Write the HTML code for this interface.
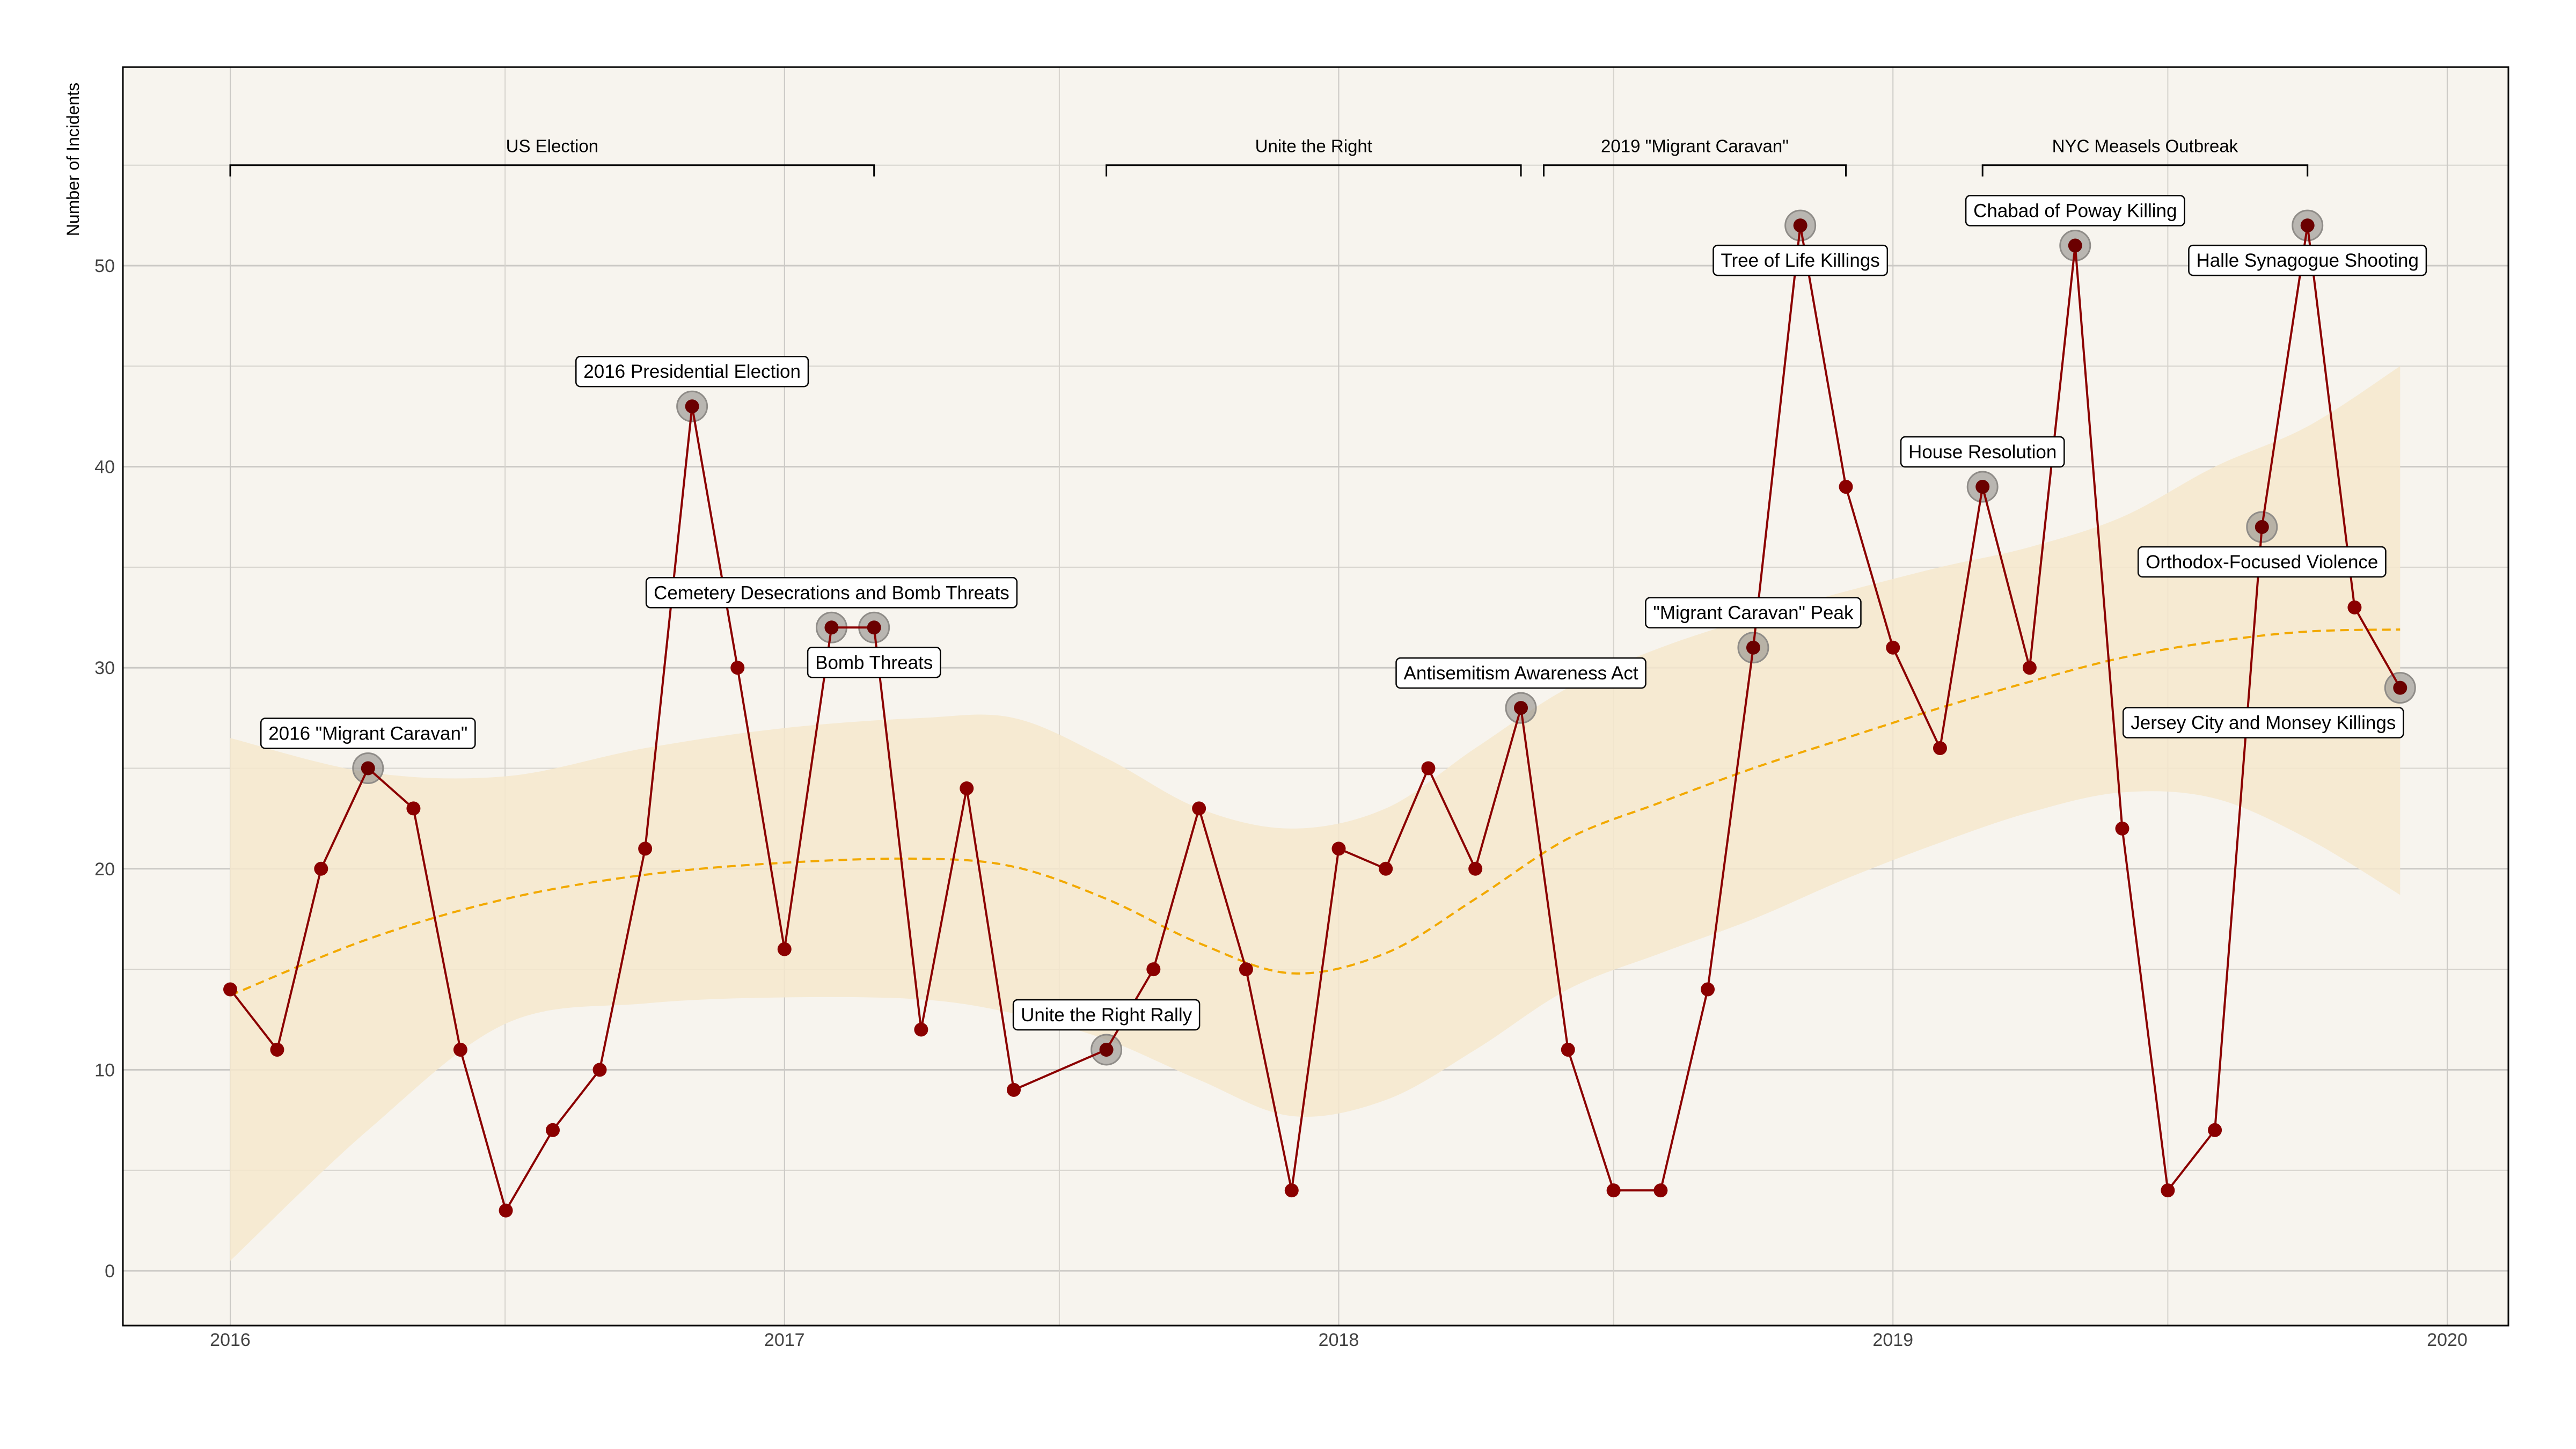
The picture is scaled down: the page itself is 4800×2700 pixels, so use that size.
<!DOCTYPE html>
<html><head><meta charset="utf-8">
<style>
html,body{margin:0;padding:0;background:#fff;}
svg{display:block;font-family:"Liberation Sans",sans-serif;}
</style></head>
<body>
<svg id="chart" width="4800" height="2700" viewBox="0 0 4800 2700" xmlns="http://www.w3.org/2000/svg">
<rect x="229" y="125" width="4445" height="2345" fill="#f7f4ee"/>
<g id="grid"></g>
<g id="ribbon"></g>
<g id="brackets"></g>
<g id="series"></g>
<g id="labels"></g>
<rect x="229" y="125" width="4445" height="2345" fill="none" stroke="#000" stroke-width="3"/>
<g id="axes"></g>
<text transform="translate(147,297) rotate(-90)" text-anchor="middle" font-size="32" fill="#000">Number of Incidents</text>
</svg>
<script>
// ---- data ----
const months = ["2016-01","2016-02","2016-03","2016-04","2016-05","2016-06","2016-07","2016-08","2016-09","2016-10","2016-11","2016-12",
"2017-01","2017-02","2017-03","2017-04","2017-05","2017-06","2017-08","2017-09","2017-10","2017-11","2017-12",
"2018-01","2018-02","2018-03","2018-04","2018-05","2018-06","2018-07","2018-08","2018-09","2018-10","2018-11","2018-12",
"2019-01","2019-02","2019-03","2019-04","2019-05","2019-06","2019-07","2019-08","2019-09","2019-10","2019-11","2019-12"];
const incidents = [14,11,20,25,23,11,3,7,10,21,43,30,
16,32,32,12,24,9,11,15,23,15,4,
21,20,25,20,28,11,4,4,14,31,52,39,
31,26,39,30,51,22,4,7,37,52,33,29];
const trendMonths = ["2016-01","2016-04","2016-07","2016-10","2017-01","2017-04","2017-06","2017-08","2017-10","2017-12","2018-02","2018-04","2018-06","2018-08","2018-10","2018-12","2019-02","2019-04","2019-06","2019-08","2019-10","2019-12"];
const trendFit =   [13.7,16.5,18.5,19.7,20.3,20.5,20.1,18.5,16.3,14.8,15.8,18.5,21.5,23.3,25.0,26.5,28.0,29.3,30.5,31.3,31.8,31.9];
const trendUpper = [26.5,24.8,24.6,26.0,27.0,27.5,27.5,25.5,23.0,22.0,23.0,26.0,29.0,31.0,32.5,33.8,35.0,36.0,37.5,40.0,42.0,45.0];
const trendLower = [0.5,7.0,12.3,13.3,13.6,13.5,12.8,11.5,9.5,7.7,8.5,11.0,14.0,15.8,17.5,19.5,21.3,22.8,23.8,23.5,21.5,18.7];
const eventMonths = ["2016-04","2016-11","2017-02","2017-03","2017-08","2018-05","2018-10","2018-11","2019-03","2019-05","2019-09","2019-10","2019-12"];
const eventLabels = ["2016 \"Migrant Caravan\"","2016 Presidential Election","Cemetery Desecrations and Bomb Threats","Bomb Threats","Unite the Right Rally","Antisemitism Awareness Act","\"Migrant Caravan\" Peak","Tree of Life Killings","House Resolution","Chabad of Poway Killing","Orthodox-Focused Violence","Halle Synagogue Shooting","Jersey City and Monsey Killings"];
const eventPlacement = ["above","above","above","below","above","above","above","below","above","above","below","below","below-left"];
const periodStart = ["2016-01-01","2017-08-01","2018-05-16","2019-03-01"];
const periodEnd =   ["2017-03-01","2018-05-01","2018-12-01","2019-10-01"];
const periodNames = ["US Election","Unite the Right","2019 \"Migrant Caravan\"","NYC Measels Outbreak"];
const yTicks = [0,10,20,30,40,50];
const yMinor = [5,15,25,35,45,55];
const xTicks = ["2016","2017","2018","2019","2020"];
const bracketLevel = 55;

// ---- scales ----
const NS="http://www.w3.org/2000/svg";
const X0=429, YEARPX=1032.75, Y0=2368, UNIT=37.46;
function dayFrac(s){const p=s.split("-");const y=+p[0],m=p.length>1?+p[1]-1:0,dd=p.length>2?+p[2]:1;
  const d=Date.UTC(y,m,dd), s0=Date.UTC(y,0,1), s1=Date.UTC(y+1,0,1);return y+(d-s0)/(s1-s0);}
function xs(s){return X0+(dayFrac(s)-2016)*YEARPX;}
function ys(v){return Y0-v*UNIT;}
function mk(tag,attrs,parent){const e=document.createElementNS(NS,tag);for(const k in attrs)e.setAttribute(k,attrs[k]);parent.appendChild(e);return e;}
function smooth(pts,start){let d=start?"M"+pts[0][0]+","+pts[0][1]:"L"+pts[0][0]+","+pts[0][1];
for(let i=0;i<pts.length-1;i++){const p0=pts[Math.max(0,i-1)],p1=pts[i],p2=pts[i+1],p3=pts[Math.min(pts.length-1,i+2)];
d+="C"+(p1[0]+(p2[0]-p0[0])/6)+","+(p1[1]+(p2[1]-p0[1])/6)+" "+(p2[0]-(p3[0]-p1[0])/6)+","+(p2[1]-(p3[1]-p1[1])/6)+" "+p2[0]+","+p2[1];}
return d;}

const grid=document.getElementById('grid');
yMinor.forEach(v=>{const l=mk('line',{x1:229,x2:4674,y1:ys(v),y2:ys(v),stroke:'#d6d3cd','stroke-width':2},grid);

});
yTicks.forEach(v=>{const l=mk('line',{x1:229,x2:4674,y1:ys(v),y2:ys(v),stroke:'#cbc9c5','stroke-width':3},grid);

});
xTicks.forEach((t,i)=>{const x=xs(t);const l=mk('line',{x1:x,x2:x,y1:125,y2:2470,stroke:'#cbc9c5','stroke-width':2},grid);


if(i<xTicks.length-1){const xm=x+YEARPX*0.4959;const m=mk('line',{x1:xm,x2:xm,y1:125,y2:2470,stroke:'#d6d3cd','stroke-width':2},grid);

}});

// ribbon + trend
const rib=document.getElementById('ribbon');
const up=trendMonths.map((m,i)=>[xs(m),ys(trendUpper[i])]);
const lo=trendMonths.map((m,i)=>[xs(m),ys(trendLower[i])]).reverse();
const band=mk('path',{d:smooth(up,true)+smooth(lo,false)+"Z",fill:'#f6e8cc','fill-opacity':0.85},rib);


const tpts=trendMonths.map((m,i)=>[xs(m),ys(trendFit[i])]);
const tl=mk('path',{d:smooth(tpts,true),fill:'none',stroke:'#f2a900','stroke-width':4,'stroke-dasharray':'16,10'},rib);



// brackets
const br=document.getElementById('brackets');
periodNames.forEach((n,i)=>{const a=xs(periodStart[i]),b=xs(periodEnd[i]),y=ys(bracketLevel);
const p=mk('path',{d:`M${a},${y+21}V${y}H${b}V${y+21}`,fill:'none',stroke:'#000','stroke-width':3},br);


const t=mk('text',{x:(a+b)/2,y:y-24,'text-anchor':'middle','font-size':33,fill:'#000'},br);t.textContent=n;

});

// series
const se=document.getElementById('series');
eventMonths.forEach(m=>{const i=months.indexOf(m);const c=mk('circle',{cx:xs(m),cy:ys(incidents[i]),r:28,fill:'#8f8c88','fill-opacity':0.6,stroke:'#8f8c88','stroke-width':3},se);

});
const ln=mk('polyline',{points:months.map((m,i)=>xs(m)+","+ys(incidents[i])).join(" "),fill:'none',stroke:'#8b0000','stroke-width':4},se);


months.forEach((m,i)=>{const c=mk('circle',{cx:xs(m),cy:ys(incidents[i]),r:13,fill:eventMonths.includes(m)?'#6b0000':'#8b0000'},se);

});

// labels
const lb=document.getElementById('labels');
eventMonths.forEach((m,k)=>{const i=months.indexOf(m);let cx=xs(m),cy=ys(incidents[i]);
const pl=eventPlacement[k];cy+= pl.startsWith('below')?65:-65; if(pl==='below-left')cx-=255;
const g=mk('g',{},lb);


const r=mk('rect',{rx:8,ry:8,fill:'#fff',stroke:'#000','stroke-width':2.5},g);
const t=mk('text',{x:cx,y:cy+12,'text-anchor':'middle','font-size':35,fill:'#000'},g);t.textContent=eventLabels[k];
const w=t.getComputedTextLength()+28;
r.setAttribute('x',cx-w/2);r.setAttribute('y',cy-28);r.setAttribute('width',w);r.setAttribute('height',56);});

// axes labels
const ax=document.getElementById('axes');
yTicks.forEach(v=>{const t=mk('text',{x:214,y:ys(v)+12,'text-anchor':'end','font-size':34,fill:'#444'},ax);t.textContent=v;

});
xTicks.forEach(s=>{const t=mk('text',{x:xs(s),y:2508,'text-anchor':'middle','font-size':34,fill:'#444'},ax);t.textContent=s;

});
</script>
</body></html>
